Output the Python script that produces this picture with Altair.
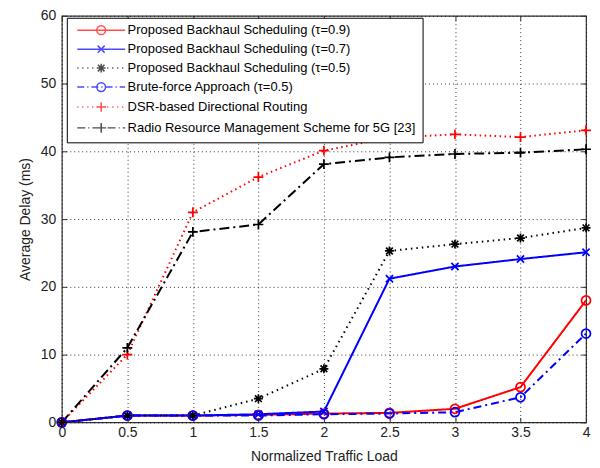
import altair as alt
import pandas as pd
import re

# ---------------- data ----------------
loads = [0, 0.5, 1, 1.5, 2, 2.5, 3, 3.5, 4]
series_names = [
    "Proposed Backhaul Scheduling (τ=0.9)",
    "Proposed Backhaul Scheduling (τ=0.7)",
    "Proposed Backhaul Scheduling (τ=0.5)",
    "Brute-force Approach (τ=0.5)",
    "DSR-based Directional Routing",
    "Radio Resource Management Scheme for 5G [23]",
]
tau09 = [0, 1.0, 1.0, 1.1, 1.3, 1.4, 2.0, 5.2, 18.0]
tau07 = [0, 1.0, 1.0, 1.2, 1.6, 21.2, 23.0, 24.1, 25.1]
tau05 = [0, 1.0, 1.0, 3.5, 7.9, 25.3, 26.3, 27.2, 28.7]
brute = [0, 1.0, 1.0, 1.0, 1.2, 1.3, 1.5, 3.7, 13.1]
dsr = [0, 10.0, 31.0, 36.2, 40.1, 42.0, 42.5, 42.1, 43.1]
rrm = [0, 11.0, 28.1, 29.2, 38.1, 39.1, 39.6, 39.8, 40.3]
all_values = [tau09, tau07, tau05, brute, dsr, rrm]

x_ticks = [0, 0.5, 1, 1.5, 2, 2.5, 3, 3.5, 4]
y_ticks = [0, 10, 20, 30, 40, 50, 60]

rows = []
for name, vals in zip(series_names, all_values):
    for xv, yv in zip(loads, vals):
        rows.append({"load": xv, "delay": yv, "series": name, "leg": name})
df = pd.DataFrame(rows)

# ---------------- styles ----------------
colors = ["#ff0000", "#0000ff", "#000000", "#0000ff", "#ff0000", "#000000"]
dashes = [[1, 0], [1, 0], [1.5, 4], [8, 4, 2, 4], [1.5, 3.5], [10, 4, 2, 4]]
widths = [2, 2, 1.5, 1.8, 1.5, 2.2]

CIRCLE = "M-1,0A1,1 0 1,0 1,0A1,1 0 1,0 -1,0Z"
XMARK = "M-0.8,-0.8L0.8,0.8M-0.8,0.8L0.8,-0.8"
STAR = "M-1,0L1,0M0,-1L0,1M-0.75,-0.75L0.75,0.75M-0.75,0.75L0.75,-0.75"
PLUS = "M-1.1,0L1.1,0M0,-1.1L0,1.1"
markers = [CIRCLE, XMARK, STAR, CIRCLE, PLUS, PLUS]


def fmt(v):
    return ("%.3f" % v).rstrip("0").rstrip(".")


def shift(path, dx, scale):
    parts = re.findall(r"[MLAZ]|-?\d*\.?\d+", path)
    i = 0
    res = []
    while i < len(parts):
        p = parts[i]
        if p in ("M", "L"):
            x = float(parts[i + 1]) * scale + dx
            y = float(parts[i + 2]) * scale
            res.append("%s%s,%s" % (p, fmt(x), fmt(y)))
            i += 3
        elif p == "A":
            r1 = float(parts[i + 1]) * scale
            r2 = float(parts[i + 2]) * scale
            rot, la, sw = parts[i + 3], parts[i + 4], parts[i + 5]
            x = float(parts[i + 6]) * scale + dx
            y = float(parts[i + 7]) * scale
            res.append("A%s,%s %s %s,%s %s,%s" % (fmt(r1), fmt(r2), rot, la, sw, fmt(x), fmt(y)))
            i += 8
        else:
            res.append(p)
            i += 1
    return "".join(res)


def line_path(pattern, start=-0.5, end=11.5):
    if pattern == [1, 0]:
        return "M%s,0L%s,0" % (fmt(start), fmt(end))
    unit = 4.0
    pat = [v / unit for v in pattern]
    segs = []
    pos = start
    k = 0
    while pos < end:
        ln = pat[k % len(pat)]
        if k % 2 == 0:
            segs.append("M%s,0L%s,0" % (fmt(pos), fmt(min(pos + ln, end))))
        pos += ln
        k += 1
    return "".join(segs)


legend_dashes = [[1, 0], [1, 0], [1.2, 3.8], [7, 3, 1.2, 3], [1.2, 3.8], [8, 3, 1.2, 3]]
legend_paths = [line_path(d) + shift(m, 5.5, 1.1) for d, m in zip(legend_dashes, markers)]

W, H = 526, 408
FONT = "Liberation Sans"
AXFS = 14

xs = alt.Scale(domain=[0, 4], nice=False, zero=False)
ys = alt.Scale(domain=[0, 60], nice=False)

base = alt.Chart(df)

lines = base.mark_line(clip=True).encode(
    x=alt.X("load:Q", scale=xs,
            axis=alt.Axis(values=x_ticks, title="Normalized Traffic Load", grid=True,
                          gridColor="#000000", gridDash=[1, 3], gridOpacity=0.8,
                          ticks=False, tickSize=0, domain=False, labelPadding=3,
                          labelFontSize=AXFS, titleFontSize=AXFS, titleFontWeight="normal",
                          labelFont=FONT, titleFont=FONT, titlePadding=10,
                          labelColor="#222222", titleColor="#222222",
                          labelFlush=False, labelExpr="datum.value")),
    y=alt.Y("delay:Q", scale=ys,
            axis=alt.Axis(values=y_ticks, title="Average Delay (ms)", grid=True,
                          gridColor="#000000", gridDash=[1, 3], gridOpacity=0.8,
                          ticks=False, tickSize=0, domain=False, labelPadding=6,
                          labelFontSize=AXFS, titleFontSize=AXFS, titleFontWeight="normal",
                          labelFont=FONT, titleFont=FONT, titlePadding=8,
                          labelColor="#222222", titleColor="#222222",
                          labelFlush=False)),
    color=alt.Color("series:N", scale=alt.Scale(domain=series_names, range=colors), legend=None),
    strokeDash=alt.StrokeDash("series:N", scale=alt.Scale(domain=series_names, range=dashes), legend=None),
    strokeWidth=alt.StrokeWidth("series:N", scale=alt.Scale(domain=series_names, range=widths), legend=None),
    detail="series:N",
)

points = base.mark_point(filled=False, size=81, strokeWidth=1.7, opacity=1, clip=False).encode(
    x=alt.X("load:Q", scale=xs,
            axis=alt.Axis(orient="top", offset=-H, values=x_ticks, labels=False, title=None,
                          grid=False, domain=False, ticks=True, tickSize=5, tickColor="#333333")),
    y=alt.Y("delay:Q", scale=ys,
            axis=alt.Axis(orient="right", offset=-W, values=y_ticks, labels=False, title=None,
                          grid=False, domain=False, ticks=True, tickSize=5, tickColor="#333333")),
    color=alt.Color("series:N", scale=alt.Scale(domain=series_names, range=colors), legend=None),
    shape=alt.Shape("series:N", scale=alt.Scale(domain=series_names, range=markers), legend=None),
)

leg = alt.Legend(title=None, orient="none", legendX=5, legendY=2,
                 fillColor="white", strokeColor="#000000", padding=6,
                 symbolSize=64, symbolStrokeWidth=1.5, labelOffset=42,
                 labelFontSize=13, labelFont=FONT, labelColor="#000000",
                 rowPadding=4, labelLimit=400)

legend_layer = base.transform_filter("datum.load < -100").mark_point(
    filled=False, size=64, strokeWidth=1.5
).encode(
    x=alt.X("load:Q", scale=xs,
            axis=alt.Axis(orient="bottom", offset=-H, values=x_ticks, labels=False, title=None,
                          grid=False, domain=False, ticks=True, tickSize=5, tickColor="#333333")),
    y=alt.Y("delay:Q", scale=ys,
            axis=alt.Axis(orient="left", offset=-W, values=y_ticks, labels=False, title=None,
                          grid=False, domain=False, ticks=True, tickSize=5, tickColor="#333333")),
    color=alt.Color("leg:N", scale=alt.Scale(domain=series_names, range=colors), legend=leg),
    shape=alt.Shape("leg:N", scale=alt.Scale(domain=series_names, range=legend_paths), legend=leg),
)

chart = alt.layer(lines, points, legend_layer).resolve_scale(
    color="independent", shape="independent"
).resolve_axis(
    x="independent", y="independent"
).properties(
    width=W, height=H,
    autosize=alt.AutoSizeParams(type="none"),
    padding={"left": 54, "top": 7, "right": 6, "bottom": 45},
    background="white",
).configure_view(
    stroke="#333333", strokeWidth=1.2
)

chart.save("out.html", embed_options={"renderer": "svg", "actions": False})
